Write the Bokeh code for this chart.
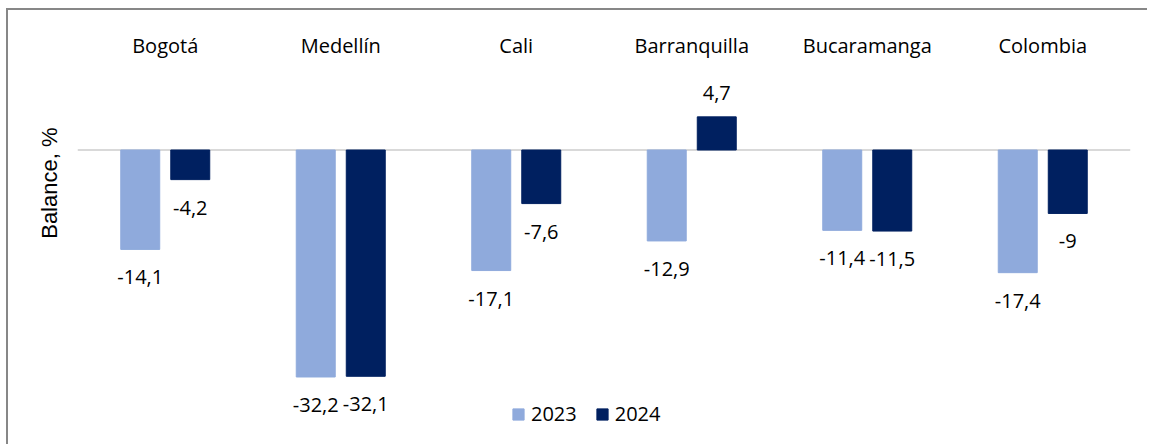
from bokeh.plotting import figure
from bokeh.layouts import column
from bokeh.models import (ColumnDataSource, FactorRange, Range1d, Span, Title,
                          Legend, LegendItem)
from bokeh.transform import dodge
from bokeh.core.properties import value
from bokeh.embed import file_html
from bokeh.resources import INLINE

# ---- data ----
cities = ["Bogotá", "Medellín", "Cali", "Barranquilla", "Bucaramanga", "Colombia"]
balance_2023 = [-14.1, -32.2, -17.1, -12.9, -11.4, -17.4]
balance_2024 = [-4.2, -32.1, -7.6, 4.7, -11.5, -9.0]
series_names = ["2023", "2024"]
y_title = "Balance, %"

COL_2023 = "#8FAADC"
COL_2024 = "#002060"
FONT = "Open Sans"


def fmt(v):
    return f"{v:g}".replace(".", ",")


def offs(vals):
    return [28 if v < 0 else -24 for v in vals]


src = ColumnDataSource(dict(
    city=cities,
    v23=balance_2023,
    v24=balance_2024,
    l23=[fmt(v) for v in balance_2023],
    l24=[fmt(v) for v in balance_2024],
    o23=offs(balance_2023),
    o24=offs(balance_2024),
))

p = figure(width=1141, height=436,
           x_range=FactorRange(*cities, range_padding=0),
           y_range=Range1d(-42.06, 9.86),
           x_axis_location="above", y_axis_location=None,
           output_backend="svg", toolbar_location=None,
           min_border_left=69, min_border_right=19,
           min_border_top=70, min_border_bottom=0)
p.styles = {"border-left": "2px solid #878787", "border-top": "2px solid #878787"}
p.margin = (8, 0, 0, 6)
p.outline_line_color = None
p.background_fill_color = "white"
p.border_fill_color = "white"
p.xgrid.visible = False
p.ygrid.visible = False

ax = p.xaxis[0]
ax.axis_line_color = None
ax.major_tick_line_color = None
ax.minor_tick_line_color = None
ax.major_tick_in = 0
ax.major_tick_out = 0
ax.major_label_standoff = 22
ax.major_label_text_font = FONT
ax.major_label_text_font_size = "20px"
ax.major_label_text_color = "black"

# zero line
p.add_layout(Span(location=0, dimension="width", line_color="#D9D9D9",
                  line_width=2, level="underlay"))

W = 0.222
D = 0.1425
r23 = p.vbar(x=dodge("city", -D, range=p.x_range), top="v23", bottom=0, width=W,
             source=src, fill_color=COL_2023, line_color=COL_2023)
r24 = p.vbar(x=dodge("city", D, range=p.x_range), top="v24", bottom=0, width=W,
             source=src, fill_color=COL_2024, line_color=COL_2024)

for xo, col, off in ((-D, "l23", "o23"), (D, "l24", "o24")):
    y = "v23" if col == "l23" else "v24"
    p.text(x=dodge("city", xo, range=p.x_range), y=y, text=col, y_offset=off,
           source=src, text_align="center", text_baseline="middle",
           text_font=value(FONT), text_font_size="20px", text_color="black")

# y-axis title (vertical title on the left side)
p.add_layout(Title(text=y_title, align="right", offset=47, standoff=31,
                   text_font="Liberation Sans", text_font_size="22px",
                   text_font_style="normal", text_color="black"), "left")

legend = Legend(items=[LegendItem(label=series_names[0], renderers=[r23]),
                       LegendItem(label=series_names[1], renderers=[r24])],
                orientation="horizontal", location=(434, 19),
                glyph_width=14, glyph_height=14, label_standoff=6, spacing=18,
                padding=0, margin=0, border_line_color=None,
                background_fill_alpha=0, label_text_font=FONT,
                label_text_font_size="20px", label_text_color="black")
p.add_layout(legend, "center")

layout = column(p)
open("out.html", "w").write(file_html(layout, INLINE))
